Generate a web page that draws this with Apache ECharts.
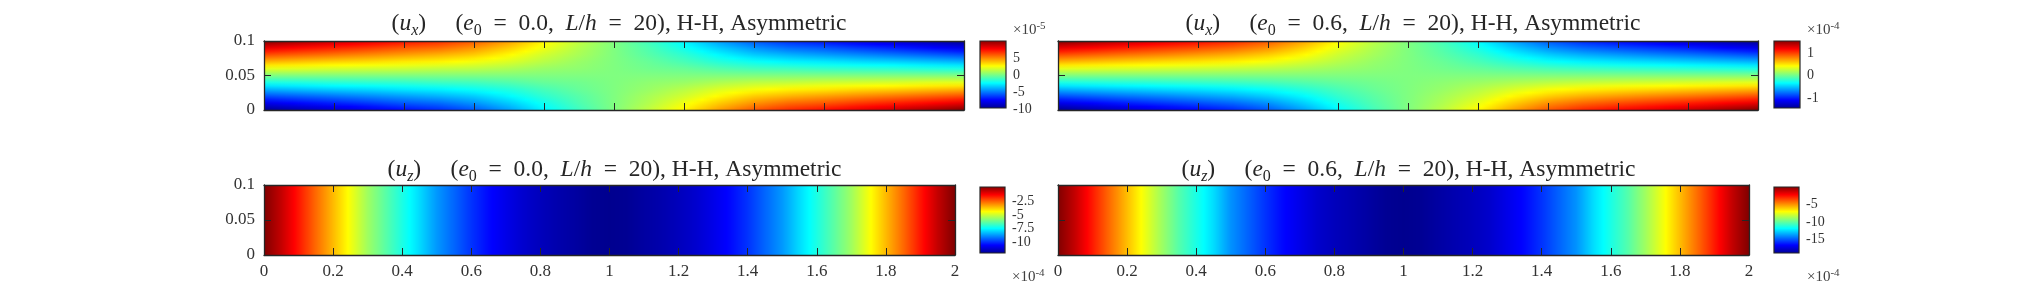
<!DOCTYPE html>
<html><head><meta charset="utf-8">
<style>html,body{margin:0;padding:0;background:#fff}#c{width:2025px;height:307px}</style>
<script src="https://cdn.jsdelivr.net/npm/echarts@6/dist/echarts.min.js"></script>
</head><body><div id="c"></div>
<script>
// Grid columns (x) and tables. Rows run from y=0.1 (top) to y=0 (bottom).
const uxColumns = [0,0.1,0.2,0.3,0.4,0.5,0.6,0.7,0.8,0.9,1,1.1,1.2,1.3,1.4,1.5,1.6,1.7,1.8,1.9,2];
const uzColumns = [0,0.05,0.1,0.15,0.2,0.25,0.3,0.35,0.4,0.45,0.5,0.55,0.6,0.65,0.7,0.75,0.8,0.85,0.9,0.95,1,1.05,1.1,1.15,1.2,1.25,1.3,1.35,1.4,1.45,1.5,1.55,1.6,1.65,1.7,1.75,1.8,1.85,1.9,1.95,2];

const uxE00 = [ // x 1e-5
[10,9.3,8.6,8,7.3,6.7,5.8,4.4,2.7,1.3,0,-1.3,-2.7,-4.4,-5.8,-6.7,-7.3,-8,-8.6,-9.3,-10],
[8,7.4,6.9,6.4,5.8,5.4,4.6,3.5,2.2,1,0,-1,-2.2,-3.5,-4.6,-5.4,-5.8,-6.4,-6.9,-7.4,-8],
[6,5.6,5.2,4.8,4.4,4,3.5,2.6,1.6,0.8,0,-0.8,-1.6,-2.6,-3.5,-4,-4.4,-4.8,-5.2,-5.6,-6],
[4,3.7,3.4,3.2,2.9,2.7,2.3,1.8,1.1,0.5,0,-0.5,-1.1,-1.8,-2.3,-2.7,-2.9,-3.2,-3.4,-3.7,-4],
[2,1.9,1.7,1.6,1.5,1.3,1.2,0.9,0.5,0.3,0,-0.3,-0.5,-0.9,-1.2,-1.3,-1.5,-1.6,-1.7,-1.9,-2],
[0,0,0,0,0,0,0,0,0,0,0,0,0,0,0,0,0,0,0,0,0],
[-2,-1.9,-1.7,-1.6,-1.5,-1.3,-1.2,-0.9,-0.5,-0.3,0,0.3,0.5,0.9,1.2,1.3,1.5,1.6,1.7,1.9,2],
[-4,-3.7,-3.4,-3.2,-2.9,-2.7,-2.3,-1.8,-1.1,-0.5,0,0.5,1.1,1.8,2.3,2.7,2.9,3.2,3.4,3.7,4],
[-6,-5.6,-5.2,-4.8,-4.4,-4,-3.5,-2.6,-1.6,-0.8,0,0.8,1.6,2.6,3.5,4,4.4,4.8,5.2,5.6,6],
[-8,-7.4,-6.9,-6.4,-5.8,-5.4,-4.6,-3.5,-2.2,-1,0,1,2.2,3.5,4.6,5.4,5.8,6.4,6.9,7.4,8],
[-10,-9.3,-8.6,-8,-7.3,-6.7,-5.8,-4.4,-2.7,-1.3,0,1.3,2.7,4.4,5.8,6.7,7.3,8,8.6,9.3,10]
];
const uxE06 = [ // x 1e-4
[1.5,1.4,1.3,1.21,1.12,1.02,0.87,0.65,0.39,0.18,0,-0.18,-0.39,-0.65,-0.87,-1.02,-1.12,-1.21,-1.3,-1.4,-1.5],
[1.2,1.12,1.04,0.97,0.9,0.82,0.7,0.52,0.31,0.14,0,-0.14,-0.31,-0.52,-0.7,-0.82,-0.9,-0.97,-1.04,-1.12,-1.2],
[0.9,0.84,0.78,0.73,0.67,0.61,0.52,0.39,0.23,0.11,0,-0.11,-0.23,-0.39,-0.52,-0.61,-0.67,-0.73,-0.78,-0.84,-0.9],
[0.6,0.56,0.52,0.48,0.45,0.41,0.35,0.26,0.16,0.07,0,-0.07,-0.16,-0.26,-0.35,-0.41,-0.45,-0.48,-0.52,-0.56,-0.6],
[0.3,0.28,0.26,0.24,0.22,0.2,0.17,0.13,0.08,0.04,0,-0.04,-0.08,-0.13,-0.17,-0.2,-0.22,-0.24,-0.26,-0.28,-0.3],
[0,0,0,0,0,0,0,0,0,0,0,0,0,0,0,0,0,0,0,0,0],
[-0.3,-0.28,-0.26,-0.24,-0.22,-0.2,-0.17,-0.13,-0.08,-0.04,0,0.04,0.08,0.13,0.17,0.2,0.22,0.24,0.26,0.28,0.3],
[-0.6,-0.56,-0.52,-0.48,-0.45,-0.41,-0.35,-0.26,-0.16,-0.07,0,0.07,0.16,0.26,0.35,0.41,0.45,0.48,0.52,0.56,0.6],
[-0.9,-0.84,-0.78,-0.73,-0.67,-0.61,-0.52,-0.39,-0.23,-0.11,0,0.11,0.23,0.39,0.52,0.61,0.67,0.73,0.78,0.84,0.9],
[-1.2,-1.12,-1.04,-0.97,-0.9,-0.82,-0.7,-0.52,-0.31,-0.14,0,0.14,0.31,0.52,0.7,0.82,0.9,0.97,1.04,1.12,1.2],
[-1.5,-1.4,-1.3,-1.21,-1.12,-1.02,-0.87,-0.65,-0.39,-0.18,0,0.18,0.39,0.65,0.87,1.02,1.12,1.21,1.3,1.4,1.5]
];
const uzE00 = [ // x 1e-4, no variation across y
[-0.05,-0.85,-1.8,-2.8,-3.75,-4.7,-5.7,-6.5,-7.26,-8,-8.8,-9.4,-10,-10.5,-10.9,-11.25,-11.5,-11.7,-11.85,-12.04,-12.1,-12.04,-11.85,-11.7,-11.5,-11.25,-10.9,-10.5,-10,-9.4,-8.8,-8,-7.26,-6.5,-5.7,-4.7,-3.75,-2.8,-1.8,-0.85,-0.05]
];
const uzE06 = [ // x 1e-4, no variation across y
[-0.2,-1.5,-3.05,-4.6,-6.1,-7.6,-9.1,-10.5,-11.6,-12.7,-14.1,-15,-15.9,-16.7,-17.3,-17.9,-18.25,-18.5,-18.8,-19.1,-19.2,-19.1,-18.8,-18.5,-18.25,-17.9,-17.3,-16.7,-15.9,-15,-14.1,-12.7,-11.6,-10.5,-9.1,-7.6,-6.1,-4.6,-3.05,-1.5,-0.2]
];
const barTicksUxE00 = [-10,-5,0,5];
const barTicksUxE06 = [-1,0,1];
const barTicksUzE00 = [-10,-7.5,-5,-2.5];
const barTicksUzE06 = [-15,-10,-5];

const jetStops = [[0,[0,0,143]],[0.125,[0,0,255]],[0.375,[0,255,255]],[0.625,[255,255,0]],[0.875,[255,0,0]],[1,[128,0,0]]];
function jet(t){
  t=Math.max(0,Math.min(1,t));
  for(let i=1;i<jetStops.length;i++){
    if(t<=jetStops[i][0]){
      const a=jetStops[i-1],b=jetStops[i],f=(t-a[0])/(b[0]-a[0]);
      return 'rgb('+a[1].map((c,k)=>Math.round(c+(b[1][k]-c)*f)).join(',')+')';
    }
  }
  return 'rgb(128,0,0)';
}

const FONT='Liberation Serif', DARK='#262626';
const panels=[
 {rows:uxE00,cols:uxColumns,vmin:-10,vmax:10,ticks:barTicksUxE00,g:[264,41,700,69],b:[980,41,26,67],xl:false,yl:true,comp:'x',e:'0.0',mult:'-5',mx:1008,my:25,ty:4},
 {rows:uxE06,cols:uxColumns,vmin:-1.5,vmax:1.5,ticks:barTicksUxE06,g:[1058,41,700,69],b:[1774,41,26,67],xl:false,yl:false,comp:'x',e:'0.6',mult:'-4',mx:1802,my:25,ty:4},
 {rows:uzE00,cols:uzColumns,vmin:-12.1,vmax:-0.05,ticks:barTicksUzE00,g:[264,185,691,70],b:[980,187,25,66],xl:true,yl:true,comp:'z',e:'0.0',mult:'-4',mx:1007,my:272,ty:150},
 {rows:uzE06,cols:uzColumns,vmin:-19.2,vmax:-0.2,ticks:barTicksUzE06,g:[1058,185,691,70],b:[1774,187,25,66],xl:true,yl:false,comp:'z',e:'0.6',mult:'-4',mx:1802,my:272,ty:150}
];

const grid=[],xAxis=[],yAxis=[],series=[],title=[];
const richTitle={i:{fontStyle:'italic',fontFamily:FONT,fontSize:23.5,color:DARK},
  s:{fontStyle:'italic',fontFamily:FONT,fontSize:16,color:DARK,verticalAlign:'bottom',lineHeight:26},
  n:{fontFamily:FONT,fontSize:16,color:DARK,verticalAlign:'bottom',lineHeight:26}};
const richMult={p:{fontFamily:FONT,fontSize:11,color:'#404040',verticalAlign:'top',lineHeight:18}};

panels.forEach(p=>{
  const t=(v)=>(v-p.vmin)/(p.vmax-p.vmin);
  // field panel
  let gi=grid.length;
  grid.push({left:p.g[0],top:p.g[1],width:p.g[2],height:p.g[3],containLabel:false});
  const axBase={type:'value',z:5,axisLine:{show:true,onZero:false,lineStyle:{color:DARK,width:1.3}},
    axisTick:{show:true,inside:true,length:7,lineStyle:{color:DARK,width:1}},splitLine:{show:false}};
  const lbl={color:'#333',fontFamily:FONT,fontSize:17};
  const xa=Object.assign({},axBase,{gridIndex:gi,min:0,max:2,interval:0.2});
  xAxis.push(Object.assign({},xa,{position:'bottom',axisLabel:Object.assign({show:p.xl,margin:8,showMinLabel:true,showMaxLabel:true},lbl)}));
  xAxis.push(Object.assign({},xa,{position:'top',axisLabel:{show:false}}));
  const ya=Object.assign({},axBase,{gridIndex:gi,min:0,max:0.1,interval:0.05});
  yAxis.push(Object.assign({},ya,{position:'left',axisLabel:Object.assign({show:p.yl,margin:9,showMinLabel:true,showMaxLabel:true},lbl)}));
  yAxis.push(Object.assign({},ya,{position:'right',axisLabel:{show:false}}));
  const xi=xAxis.length-2, yi=yAxis.length-2;
  series.push({type:'custom',xAxisIndex:xi,yAxisIndex:yi,silent:true,animation:false,clip:true,z:2,
    data:p.cols.slice(0,-1).map((c,i)=>[c,p.cols[i+1],i]),
    renderItem:function(params,api){
      const x0=api.value(0),x1=api.value(1),i=api.value(2);
      const tl=api.coord([x0,0.1]),br=api.coord([x1,0]);
      const px0=Math.round(tl[0]),px1=Math.round(br[0]),top=Math.round(tl[1]),h=Math.round(br[1])-top;
      const kids=[];
      for(let px=px0;px<px1;px++){
        const f=(px+0.5-tl[0])/(br[0]-tl[0]);
        const vals=p.rows.map(r=>r[i]+(r[i+1]-r[i])*f);
        let fill;
        if(vals.length===1){fill=jet(t(vals[0]));}
        else{
          const stops=[];
          vals.forEach((v,k)=>{
            stops.push({offset:k/(vals.length-1),color:jet(t(v))});
            if(k<vals.length-1){stops.push({offset:(k+0.5)/(vals.length-1),color:jet(t((v+vals[k+1])/2))});}
          });
          fill=new echarts.graphic.LinearGradient(0,0,0,1,stops);
        }
        kids.push({type:'rect',shape:{x:px,y:top,width:1,height:h},style:{fill:fill}});
      }
      return {type:'group',children:kids};
    }});
  // colour bar, with its tick labels placed through the bar's own scale
  gi=grid.length;
  grid.push({left:p.b[0],top:p.b[1],width:p.b[2],height:p.b[3]});
  xAxis.push({type:'value',gridIndex:gi,min:0,max:1,show:false});
  yAxis.push({type:'value',gridIndex:gi,min:p.vmin,max:p.vmax,position:'right',scale:true,
    axisLine:{show:false},axisTick:{show:false},splitLine:{show:false},axisLabel:{show:false}});
  series.push({type:'custom',xAxisIndex:xAxis.length-1,yAxisIndex:yAxis.length-1,silent:true,animation:false,z:2,clip:false,
    data:[[0,p.vmin,1,p.vmax]],
    renderItem:function(params,api){
      const a=api.coord([api.value(0),api.value(3)]),b=api.coord([api.value(2),api.value(1)]);
      const stops=jetStops.map(s=>({offset:1-s[0],color:jet(s[0])})).reverse();
      const kids=[{type:'rect',shape:{x:a[0],y:a[1],width:b[0]-a[0],height:b[1]-a[1]},
        style:{fill:new echarts.graphic.LinearGradient(0,0,0,1,stops),stroke:DARK,lineWidth:1.2}}];
      p.ticks.forEach(v=>{
        const c=api.coord([1,v]);
        kids.push({type:'text',x:c[0]+7,y:c[1]+1,style:{text:String(v),fill:'#333',fontFamily:FONT,fontSize:14,align:'left',verticalAlign:'middle'}});
      });
      return {type:'group',children:kids};
    }});
  // panel title
  title.push({left:p.g[0]+p.g[2]/2,top:p.ty,textAlign:'center',
    text:'({i|u}{s|'+p.comp+'})     ({i|e}{n|0}  =  '+p.e+',  {i|L}/{i|h}  =  20), H-H, Asymmetric',
    textStyle:{fontFamily:FONT,fontSize:23.5,fontWeight:'normal',color:DARK,lineHeight:30,rich:richTitle}});
  // colour bar multiplier
  title.push({left:p.mx,top:p.my-9,text:'\u00d710{p|'+p.mult+'}',
    textStyle:{fontFamily:FONT,fontSize:15,fontWeight:'normal',color:'#404040',lineHeight:18,rich:richMult}});
});

const chart=echarts.init(document.getElementById('c'),null,{renderer:'canvas'});
chart.setOption({animation:false,backgroundColor:'#fff',title,grid,xAxis,yAxis,series});
</script></body></html>
